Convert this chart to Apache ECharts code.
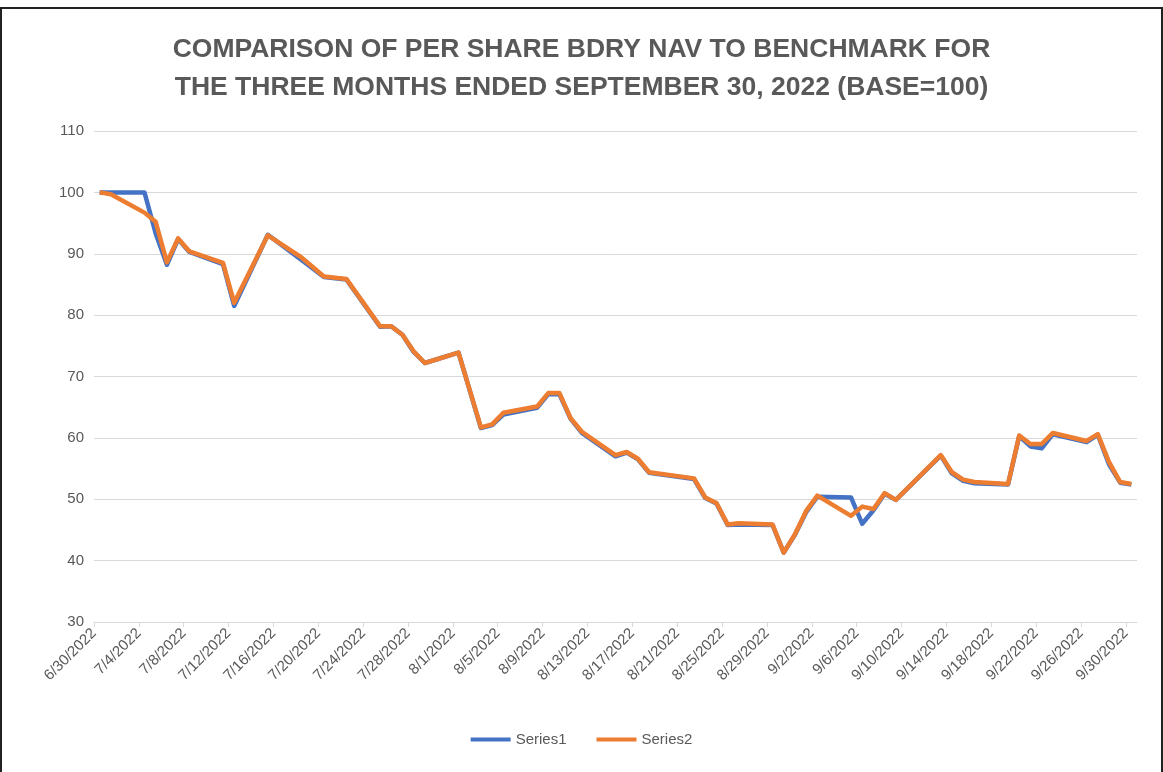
<!DOCTYPE html>
<html lang="en" style="height: 100%">
<head>
  <meta charset="utf-8">
</head>
<body style="height: 100%; margin: 0; background: #fff">
  <div id="frame" style="position: absolute; left: 0; top: 7px; width: 1159px; height: 780px; border: 2px solid #222; border-bottom: none"></div>
  <div id="container" style="position: absolute; left: 0; top: 0; width: 1163px; height: 772px"></div>

  <script type="text/javascript" src="https://fastly.jsdelivr.net/npm/echarts@6.0.0/dist/echarts.min.js"></script>
  <script type="text/javascript">
    // trading days plotted (both series share them)
    var dates = [
      '6/30/2022', '7/1/2022', '7/4/2022', '7/5/2022', '7/6/2022', '7/7/2022', '7/8/2022',
      '7/11/2022', '7/12/2022', '7/15/2022', '7/18/2022', '7/20/2022', '7/22/2022',
      '7/25/2022', '7/26/2022', '7/27/2022', '7/28/2022', '7/29/2022', '8/1/2022',
      '8/3/2022', '8/4/2022', '8/5/2022', '8/8/2022', '8/9/2022', '8/10/2022', '8/11/2022',
      '8/12/2022', '8/15/2022', '8/16/2022', '8/17/2022', '8/18/2022', '8/22/2022',
      '8/23/2022', '8/24/2022', '8/25/2022', '8/26/2022', '8/29/2022', '8/30/2022',
      '8/31/2022', '9/1/2022', '9/2/2022', '9/5/2022', '9/6/2022', '9/7/2022', '9/8/2022',
      '9/9/2022', '9/13/2022', '9/14/2022', '9/15/2022', '9/16/2022', '9/19/2022',
      '9/20/2022', '9/21/2022', '9/22/2022', '9/23/2022', '9/26/2022', '9/27/2022',
      '9/28/2022', '9/29/2022', '9/30/2022'
    ];
    var series1 = [
      100, 100, 100, 93.3, 88.2, 92.4, 90.3,
      88.3, 81.5, 93.1, 89.0, 86.2, 85.8,
      78.1, 78.2, 76.8, 74.0, 72.2, 73.9,
      61.6, 62.1, 63.8, 64.9, 67.1, 67.1, 63.1,
      60.8, 57.0, 57.6, 56.5, 54.3, 53.3,
      50.2, 49.3, 45.8, 45.9, 45.8, 41.3,
      44.2, 47.9, 50.4, 50.3, 46.0, 48.2, 50.9,
      49.9, 57.1, 54.2, 53.0, 52.6, 52.4,
      60.3, 58.6, 58.3, 60.6, 59.3, 60.5,
      55.7, 52.7, 52.4
    ];
    var series2 = [
      100, 99.7, 96.7, 95.2, 88.6, 92.5, 90.4,
      88.5, 82.0, 93.0, 89.4, 86.3, 85.9,
      78.2, 78.2, 76.8, 74.1, 72.2, 73.9,
      61.7, 62.2, 64.1, 65.1, 67.3, 67.3, 63.2,
      61.0, 57.2, 57.7, 56.6, 54.4, 53.4,
      50.3, 49.4, 45.9, 46.1, 45.9, 41.3,
      44.3, 48.1, 50.6, 47.3, 48.8, 48.4, 51.0,
      49.9, 57.2, 54.4, 53.2, 52.8, 52.5,
      60.4, 59.0, 59.0, 60.8, 59.5, 60.6,
      56.1, 52.8, 52.5
    ];
    var tickLabels = [
      '6/30/2022', '7/4/2022', '7/8/2022', '7/12/2022', '7/16/2022', '7/20/2022',
      '7/24/2022', '7/28/2022', '8/1/2022', '8/5/2022', '8/9/2022', '8/13/2022',
      '8/17/2022', '8/21/2022', '8/25/2022', '8/29/2022', '9/2/2022', '9/6/2022',
      '9/10/2022', '9/14/2022', '9/18/2022', '9/22/2022', '9/26/2022', '9/30/2022'
    ];

    function dayOffset(s) {
      var p = s.split('/');
      return (Date.UTC(+p[2], p[0] - 1, +p[1]) - Date.UTC(2022, 5, 30)) / 86400000;
    }

    var tickPos = tickLabels.map(dayOffset);
    // Excel date axis: each point sits in the middle of its day slot
    var data1 = dates.map(function (d, i) { return [dayOffset(d) + 0.5, series1[i]]; });
    var data2 = dates.map(function (d, i) { return [dayOffset(d) + 0.5, series2[i]]; });

    var grey = '#595959';
    var chart = echarts.init(document.getElementById('container'), null, { renderer: 'canvas' });

    var option = {
      animation: false,
      title: {
        text: 'COMPARISON OF PER SHARE BDRY NAV TO BENCHMARK FOR\nTHE THREE MONTHS ENDED SEPTEMBER 30, 2022 (BASE=100)',
        left: 'center',
        top: 26,
        textStyle: {
          fontFamily: 'Liberation Sans',
          fontWeight: 'bold',
          fontSize: 26.5,
          lineHeight: 38,
          color: grey
        }
      },
      legend: {
        bottom: 20,
        left: 'center',
        icon: 'rect',
        itemWidth: 40,
        itemHeight: 4,
        itemGap: 30,
        textStyle: { fontFamily: 'Liberation Sans', fontSize: 15, color: grey },
        data: ['Series1', 'Series2']
      },
      grid: { left: 94, right: 26, top: 131, bottom: 150 },
      xAxis: {
        type: 'value',
        min: 0,
        max: 93,
        splitLine: { show: false },
        axisLine: { show: true, lineStyle: { color: '#D9D9D9', width: 1 } },
        axisTick: { show: true, customValues: tickPos, length: 5, lineStyle: { color: '#D9D9D9' } },
        axisLabel: {
          customValues: tickPos,
          rotate: 45,
          margin: 9,
          fontFamily: 'Liberation Sans',
          fontSize: 15,
          color: grey,
          formatter: function (v) {
            var i = tickPos.indexOf(v);
            return i >= 0 ? tickLabels[i] : '';
          }
        }
      },
      yAxis: {
        type: 'value',
        min: 30,
        max: 110,
        interval: 10,
        axisLine: { show: false },
        axisTick: { show: false },
        splitLine: { lineStyle: { color: '#D9D9D9', width: 1 } },
        axisLabel: { fontFamily: 'Liberation Sans', fontSize: 15, color: grey, margin: 10 }
      },
      series: [
        {
          name: 'Series1',
          type: 'line',
          data: data1,
          showSymbol: false,
          color: '#4472C4',
          lineStyle: { width: 4.5, color: '#4472C4', join: 'round' }
        },
        {
          name: 'Series2',
          type: 'line',
          data: data2,
          showSymbol: false,
          color: '#ED7D31',
          lineStyle: { width: 4.5, color: '#ED7D31', join: 'round' }
        }
      ]
    };

    chart.setOption(option);
    window.addEventListener('resize', chart.resize);
  </script>
</body>
</html>
